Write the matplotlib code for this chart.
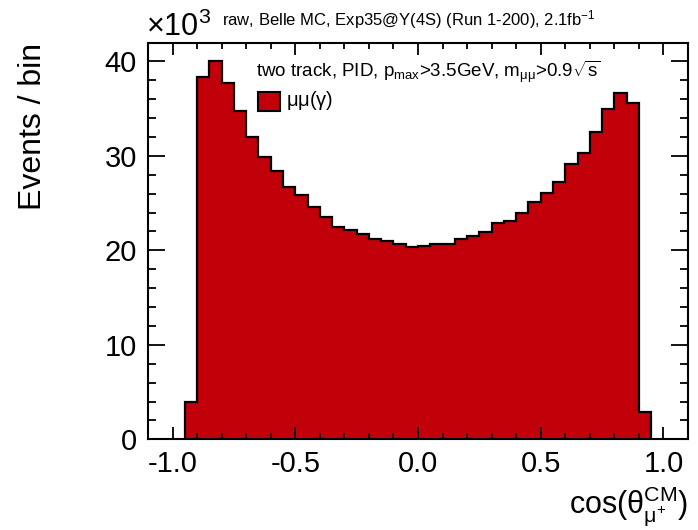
import numpy as np
import matplotlib
matplotlib.use("Agg")
import matplotlib.pyplot as plt
from matplotlib.ticker import MultipleLocator, FixedLocator
from matplotlib.patches import Rectangle

plt.rcParams['font.family'] = ['Liberation Sans', 'DejaVu Sans']
plt.rcParams['mathtext.fontset'] = 'custom'
plt.rcParams['mathtext.rm'] = 'Liberation Sans'
plt.rcParams['mathtext.it'] = 'Liberation Sans'
plt.rcParams['mathtext.bf'] = 'Liberation Sans:bold'
plt.rcParams['mathtext.default'] = 'regular'

# Histogram data (events per bin, in units of 10^3)
bin_edges = np.round(np.arange(-0.95, 0.951, 0.05), 3)
counts = [4.0, 38.4, 40.0, 37.7, 34.7, 32.0, 29.9, 28.4, 26.7, 25.9,
          24.6, 23.5, 22.5, 22.2, 21.7, 21.2, 21.0, 20.7, 20.4,
          20.5, 20.7, 20.7, 21.2, 21.55, 21.9, 22.9, 23.1, 24.0, 25.1,
          26.1, 27.2, 29.1, 30.3, 32.5, 35.0, 36.7, 35.6, 2.9]

xtick_vals = [-1.0, -0.5, 0.0, 0.5, 1.0]
xtick_labels = ['-1.0', '-0.5', '0.0', '0.5', '1.0']
ytick_vals = [0, 10, 20, 30, 40]

fill_color = '#c1000a'

fig = plt.figure(figsize=(6.98, 5.30), dpi=100)
ax = fig.add_axes([148/698, 1-439.3/530, (688-148)/698, (439.3-43)/530])

ax.stairs(counts, bin_edges, fill=True, color=fill_color, linewidth=0)
ax.stairs(counts, bin_edges, fill=False, color='black', linewidth=1.6, baseline=0)

ax.set_xlim(-1.1, 1.1)
ax.set_ylim(0, 41.95)

ax.xaxis.set_major_locator(FixedLocator(xtick_vals))
ax.set_xticklabels(xtick_labels)
ax.xaxis.set_minor_locator(MultipleLocator(0.1))
ax.yaxis.set_major_locator(FixedLocator(ytick_vals))
ax.yaxis.set_minor_locator(MultipleLocator(2))

ax.tick_params(axis='both', which='both', direction='in', top=True, right=True,
               width=1.3, labelsize=21, colors='black')
ax.tick_params(axis='x', which='major', length=8.6, pad=8)
ax.tick_params(axis='x', which='minor', length=4.3)
ax.tick_params(axis='y', which='major', length=12, pad=8)
ax.tick_params(axis='y', which='minor', length=6)
for s in ax.spines.values():
    s.set_linewidth(1.5)

# Axis titles
fig.text(33/698, 1-43/530, 'Events / bin', rotation=90, ha='center', va='top', fontsize=23)
fig.text(688/698, 1-514/530, r'cos($\theta^{CM}_{\mu^{+}}$)', ha='right', va='baseline', fontsize=22)

# Exponent and header
fig.text(146/698, 1-36/530, r'$\times$10$^{3}$', ha='left', va='baseline', fontsize=22)
fig.text(222/698, 1-25/530, r'raw, Belle MC, Exp35@$\Upsilon$(4S) (Run 1-200), 2.1fb$^{-1}$',
         ha='left', va='baseline', fontsize=12)

# In-plot text
fig.text(256/698, 1-77/530,
         r'two track, PID, p$_{\rm max}$>3.5GeV, m$_{\mu\mu}$>0.9$\sqrt{s}$',
         ha='left', va='baseline', fontsize=13.5)

# Legend
ax_leg = fig.add_axes([0, 0, 1, 1], facecolor='none')
ax_leg.set_axis_off()
ax_leg.set_xlim(0, 698)
ax_leg.set_ylim(530, 0)
ax_leg.add_patch(Rectangle((258, 92), 22, 19, facecolor=fill_color, edgecolor='black', linewidth=1.5))
ax_leg.text(286, 106, r'$\mu\mu(\gamma)$', ha='left', va='baseline', fontsize=14.5)

fig.savefig('out.png', dpi=100)
